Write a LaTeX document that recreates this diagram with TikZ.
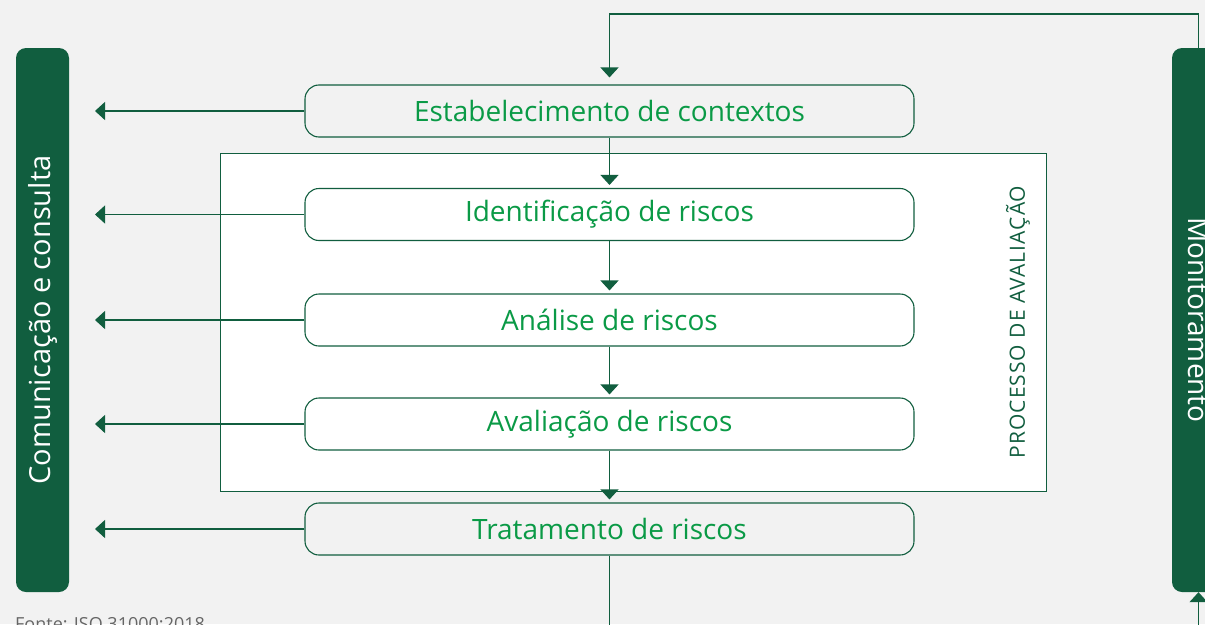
\documentclass[tikz,border=0pt]{standalone}
\usepackage{fontspec}
\setmainfont{Open Sans}
\usetikzlibrary{arrows.meta}
\definecolor{dgreen}{HTML}{115E3F}
\definecolor{tgreen}{HTML}{0A9A46}
\definecolor{bg}{HTML}{F2F2F2}
\definecolor{srcgray}{HTML}{666666}
\begin{document}
\begin{tikzpicture}[x=1pt,y=-1pt,
  stepbox/.style={draw=dgreen, line width=1.1pt, rounded corners=14pt, minimum width=609pt, minimum height=52pt, text=tgreen, font=\fontsize{28}{32}\selectfont, inner sep=0pt},
  arr/.style={draw=dgreen, line width=1.1pt, -{Triangle[length=10pt,width=18pt]}},
  bar/.style={fill=dgreen, rounded corners=10pt, text=white, font=\fontsize{28}{32}\selectfont, minimum width=544pt, minimum height=53pt, inner sep=0pt}]
\fill[bg] (0,0) rectangle (1205,624);
\useasboundingbox (0,0) rectangle (1205,624);
% side bars
\node[bar, rotate=90] (com) at (42.5,320) {\fontsize{29}{32}\selectfont Comunicação e consulta};
\node[bar, rotate=-90] (mon) at (1198.5,320) {Monitoramento};
% process frame
\node[draw=dgreen, fill=white, line width=1.1pt, minimum width=826pt, minimum height=338pt, anchor=north west, inner sep=0pt] (proc) at (220,153) {};
\node[rotate=90, text=dgreen, font=\fontsize{21}{24}\selectfont\addfontfeature{LetterSpace=5}, inner sep=0pt] (plabel) at (1018,322) {PROCESSO DE AVALIAÇÃO};
% steps
\node[stepbox] (estab) at (609.5,111) {Estabelecimento de contextos};
\node[stepbox] (ident) at (609.5,214.5) {Identificação de riscos};
\node[stepbox] (anal) at (609.5,320) {Análise de riscos};
\node[stepbox] (aval) at (609.5,424) {Avaliação de riscos};
\node[stepbox] (trat) at (609.5,529) {Tratamento de riscos};
% free ends
\coordinate (l1) at (95,111);
\coordinate (l2) at (95,214.5);
\coordinate (l3) at (95,320);
\coordinate (l4) at (95,424);
\coordinate (l5) at (95,529);
\coordinate (top) at (1198.5,14);
\coordinate (bot) at (609.5,660);
% vertical flow
\draw[arr, shorten >=3pt] (estab) -- (ident);
\draw[arr, shorten >=3pt] (ident) -- (anal);
\draw[arr, shorten >=3pt] (anal) -- (aval);
\draw[arr, shorten >=3pt] (aval) -- (trat);
% left arrows
\draw[arr] (estab.west) -- (l1);
\draw[arr] (ident.west) -- (l2);
\draw[arr] (anal.west) -- (l3);
\draw[arr] (aval.west) -- (l4);
\draw[arr] (trat.west) -- (l5);
% loop
\draw[arr, shorten >=7pt] (mon.west) -- (top) -| (estab.north);
\draw[arr] (trat.south) -- (bot) -| (mon.east);
% source
\node[anchor=north west, text=srcgray, font=\fontsize{18}{20}\selectfont, inner sep=0pt] (src) at (15,617) {Fonte: ISO 31000:2018};
\end{tikzpicture}
\end{document}
